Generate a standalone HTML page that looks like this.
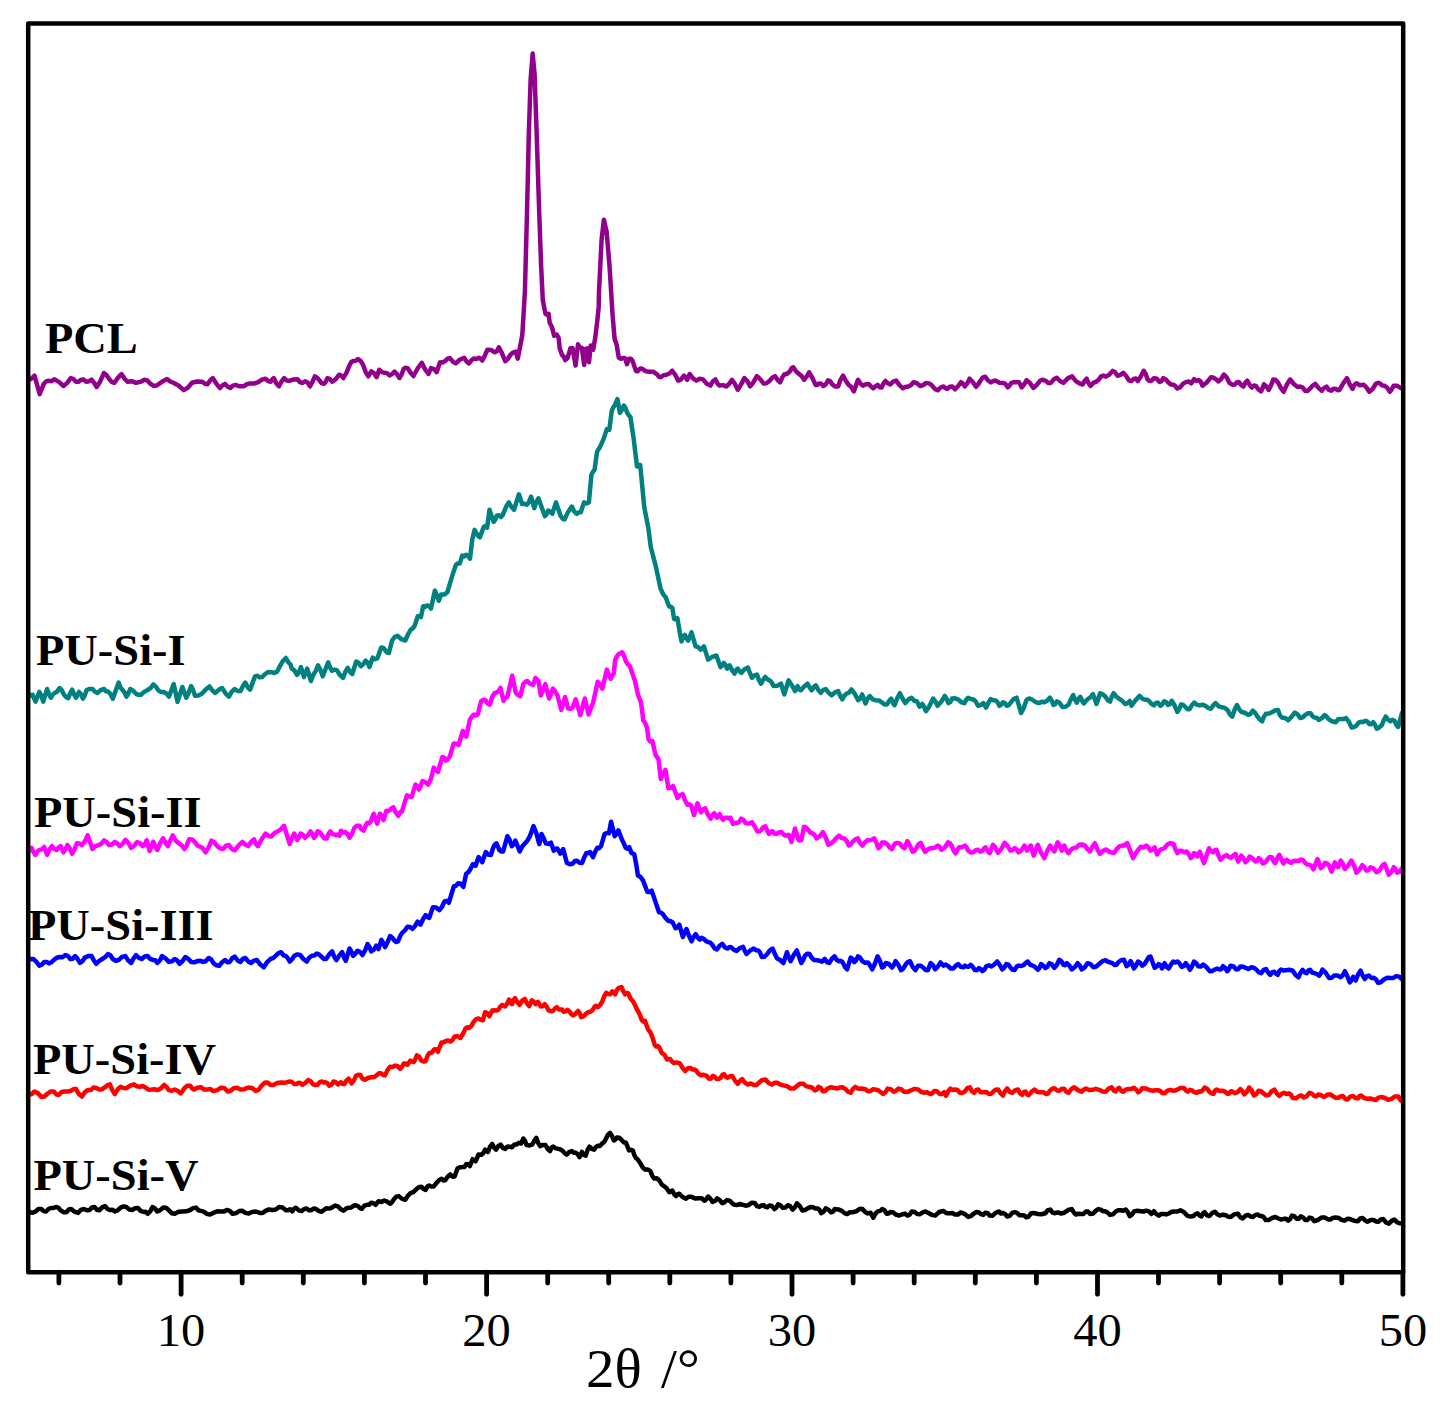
<!DOCTYPE html>
<html><head><meta charset="utf-8"><title>XRD</title>
<style>
html,body{margin:0;padding:0;background:#fff;}
body{width:1448px;height:1412px;overflow:hidden;}
svg{display:block;}
.tl{font-family:"Liberation Serif",serif;font-size:46px;fill:#000;}
.nm{font-family:"Liberation Serif",serif;font-weight:bold;font-size:44px;fill:#000;}
.ax{font-family:"Liberation Serif",serif;font-size:54px;fill:#000;}
</style></head><body>
<svg width="1448" height="1412" viewBox="0 0 1448 1412">
<rect x="0" y="0" width="1448" height="1412" fill="#fff"/>

<g fill="none" stroke-width="4.5" stroke-linejoin="round" stroke-linecap="round">
<path stroke="#92008b" d="M29.3 379.7 L31.9 378.3 L34.5 375.6 L39.7 394.2 L43.8 383.9 L46.4 381.2 L49.0 380.8 L51.6 381.2 L54.2 379.3 L58.9 381.9 L63.5 386.0 L67.2 382.9 L70.8 378.0 L73.4 379.0 L76.0 381.8 L78.5 381.8 L81.0 379.7 L83.7 379.6 L86.3 381.8 L88.9 381.3 L91.5 379.7 L94.1 382.8 L96.7 387.0 L100.3 381.2 L103.9 373.1 L106.5 375.1 L109.0 378.7 L111.7 381.9 L114.3 382.8 L117.9 377.9 L121.5 374.1 L124.6 378.8 L127.7 381.8 L131.8 381.2 L136.0 382.8 L140.2 381.9 L144.3 379.7 L147.4 380.5 L150.5 383.9 L153.6 385.9 L156.7 385.5 L161.9 381.8 L167.1 379.1 L170.2 381.5 L173.3 382.8 L178.5 385.5 L183.7 390.1 L187.8 387.7 L192.0 382.8 L197.2 381.5 L202.3 381.8 L204.9 383.7 L207.5 384.3 L210.1 380.4 L212.7 378.1 L216.3 383.6 L220.0 388.0 L222.6 385.3 L225.1 383.9 L227.7 386.8 L230.3 388.0 L232.9 385.6 L235.5 384.9 L239.6 386.3 L243.7 386.3 L246.8 384.2 L250.0 383.4 L254.1 383.5 L258.2 382.2 L261.9 379.6 L265.5 378.7 L268.1 381.0 L270.7 381.8 L272.2 379.4 L273.8 378.1 L276.4 383.4 L279.0 386.3 L281.6 381.3 L284.1 378.1 L286.7 380.5 L289.3 380.8 L293.5 379.4 L297.6 379.3 L300.0 382.2 L302.5 383.0 L305.0 381.3 L307.5 382.6 L310.0 386.3 L312.4 381.9 L314.9 376.4 L318.2 378.9 L321.5 383.0 L324.0 383.8 L325.6 382.1 L327.3 378.3 L329.8 378.9 L332.3 381.7 L335.6 379.4 L339.0 374.7 L341.2 375.5 L343.4 378.0 L346.5 372.6 L349.7 364.8 L351.4 361.9 L353.0 361.1 L355.5 360.8 L358.0 359.0 L360.5 360.9 L363.0 364.8 L365.6 371.8 L368.3 376.4 L371.3 371.4 L374.0 373.1 L376.6 377.2 L379.2 369.7 L381.9 372.1 L384.5 372.7 L387.0 373.1 L389.5 375.5 L392.0 374.1 L394.5 371.7 L397.0 374.2 L399.5 378.0 L401.6 374.6 L403.6 368.9 L405.6 367.7 L407.7 368.1 L410.6 372.7 L413.5 376.0 L417.6 368.5 L421.8 362.8 L425.1 369.4 L428.5 373.9 L431.0 368.1 L433.9 369.1 L436.7 372.2 L440.0 362.3 L442.5 362.5 L445.0 361.1 L447.5 358.7 L450.0 358.1 L452.9 361.7 L455.8 363.4 L460.0 359.5 L464.1 357.8 L466.6 361.5 L469.0 363.4 L471.5 360.1 L474.0 358.5 L476.5 359.0 L479.0 357.8 L480.6 358.7 L482.3 360.6 L484.8 355.7 L487.3 349.8 L491.1 350.0 L494.8 352.3 L496.9 351.1 L498.9 347.3 L502.0 353.3 L505.2 361.2 L507.9 358.8 L510.5 354.7 L513.1 352.5 L515.7 351.5 L517.8 358.6 L522.3 335.0 L524.9 291.8 L527.0 213.3 L528.8 134.7 L530.6 79.8 L532.7 53.6 L534.6 74.5 L536.7 134.7 L538.8 200.2 L541.1 265.7 L542.8 300.0 L544.1 306.9 L545.5 313.8 L547.0 314.7 L548.6 313.8 L549.7 322.8 L552.1 327.6 L554.2 335.9 L556.6 334.5 L558.6 337.6 L559.7 348.3 L562.1 355.2 L563.7 356.4 L565.2 360.1 L567.6 358.0 L570.4 348.3 L572.5 348.0 L575.6 365.6 L578.0 344.2 L579.7 347.7 L581.8 347.7 L584.2 364.9 L585.6 349.0 L587.7 348.3 L589.0 362.2 L590.8 345.6 L593.2 349.7 L595.2 338.0 L597.3 320.7 L598.7 306.9 L599.0 291.8 L601.6 239.5 L603.9 219.8 L606.6 231.6 L609.5 265.7 L612.5 313.8 L614.6 338.7 L616.7 344.9 L618.7 357.3 L620.8 358.8 L622.9 358.0 L624.9 358.0 L627.0 364.2 L629.1 358.7 L630.8 358.8 L632.5 360.8 L636.0 371.1 L637.7 371.3 L639.4 369.1 L641.0 368.4 L642.7 369.1 L646.0 371.3 L649.3 371.7 L653.2 371.7 L657.1 374.3 L658.9 376.8 L660.7 377.3 L663.6 375.2 L666.5 374.8 L669.4 373.5 L672.3 370.7 L675.2 374.7 L678.1 380.6 L681.0 379.4 L683.9 375.6 L685.5 377.2 L687.2 379.8 L689.7 374.0 L693.0 378.4 L696.4 380.6 L699.7 378.8 L703.0 379.4 L706.7 383.7 L710.4 385.6 L712.9 381.4 L715.4 379.4 L717.5 383.6 L719.6 385.6 L722.9 385.1 L726.2 386.4 L729.1 384.0 L732.0 379.8 L734.9 383.9 L737.8 389.7 L741.1 384.4 L744.4 378.1 L747.3 381.1 L750.2 386.4 L753.5 382.2 L756.9 376.1 L760.2 379.1 L763.5 383.4 L766.4 383.2 L769.3 381.1 L772.2 377.7 L775.1 376.1 L777.6 380.0 L780.1 382.3 L782.2 377.6 L784.2 374.5 L787.1 373.8 L790.0 371.2 L791.6 368.3 L793.3 367.3 L796.2 371.6 L799.1 374.0 L801.6 376.0 L804.1 379.8 L806.6 376.6 L809.1 372.3 L812.4 378.0 L815.7 385.1 L817.4 384.9 L819.0 383.4 L821.1 383.8 L823.2 386.1 L825.7 384.4 L828.1 380.3 L830.2 381.2 L832.3 384.4 L835.2 386.5 L838.1 386.4 L840.5 379.8 L843.0 375.6 L846.0 381.1 L848.9 385.1 L851.3 387.1 L853.8 391.4 L858.0 379.8 L860.5 383.7 L863.0 385.6 L865.9 384.2 L868.7 383.9 L871.1 386.6 L873.5 388.3 L875.6 386.1 L877.7 384.9 L879.7 387.3 L881.6 387.4 L883.5 383.5 L885.5 381.0 L887.9 383.3 L890.3 384.5 L893.2 381.6 L896.1 380.6 L899.5 385.2 L902.9 388.3 L905.8 386.8 L908.7 386.4 L911.1 384.9 L913.5 382.2 L916.9 383.2 L920.3 386.0 L923.2 385.1 L926.1 382.9 L929.0 383.4 L931.9 385.4 L934.8 388.9 L937.7 390.3 L940.6 387.5 L943.5 386.4 L945.5 388.3 L947.4 388.7 L949.8 386.7 L952.2 386.4 L955.1 389.3 L958.0 386.3 L960.9 382.2 L962.8 383.5 L964.8 386.4 L967.2 383.4 L969.6 378.7 L972.8 382.1 L976.0 386.8 L978.1 384.5 L980.2 381.0 L982.7 377.6 L985.1 376.7 L988.0 380.5 L990.9 382.5 L993.3 380.9 L995.7 380.6 L999.5 382.7 L1003.4 382.9 L1005.5 384.0 L1007.7 387.4 L1009.5 385.7 L1011.2 382.9 L1015.0 382.0 L1018.9 382.2 L1021.8 387.4 L1024.2 384.4 L1026.6 380.2 L1030.0 383.0 L1033.4 388.0 L1036.8 384.9 L1040.2 380.6 L1043.1 379.7 L1046.0 381.0 L1048.4 383.0 L1050.8 382.9 L1053.7 379.4 L1056.6 377.7 L1060.0 381.0 L1063.4 382.9 L1067.8 378.4 L1072.1 376.4 L1075.9 381.1 L1079.8 383.5 L1082.7 384.5 L1084.7 380.7 L1086.6 378.7 L1088.5 383.0 L1090.5 386.0 L1093.4 382.8 L1096.3 381.6 L1098.7 379.8 L1101.1 376.4 L1103.5 375.6 L1105.9 376.7 L1109.3 374.6 L1112.7 370.9 L1115.1 372.3 L1117.5 375.8 L1120.4 374.9 L1123.3 372.9 L1126.2 376.0 L1129.1 380.6 L1131.5 380.9 L1134.0 378.7 L1135.9 378.6 L1137.8 381.0 L1140.8 376.6 L1143.7 370.8 L1145.6 373.8 L1147.5 379.2 L1149.3 380.8 L1151.2 381.0 L1154.0 378.2 L1156.8 378.8 L1159.6 382.0 L1161.4 381.2 L1163.3 378.2 L1166.1 379.7 L1168.9 382.9 L1171.2 384.6 L1173.6 384.8 L1175.4 386.1 L1177.3 388.5 L1180.1 387.4 L1182.9 383.8 L1185.7 382.1 L1188.5 381.4 L1191.3 383.3 L1194.1 379.2 L1196.4 380.8 L1198.7 380.1 L1200.6 381.6 L1202.5 385.7 L1206.7 382.5 L1210.9 377.3 L1213.7 377.8 L1216.4 379.5 L1218.3 381.4 L1221.1 379.1 L1223.9 374.5 L1226.7 377.4 L1229.5 382.9 L1232.3 384.7 L1235.1 384.4 L1236.9 382.3 L1238.8 382.0 L1241.2 385.1 L1243.5 386.6 L1245.3 382.8 L1247.2 380.6 L1249.6 384.7 L1251.9 387.5 L1253.8 385.6 L1255.6 385.7 L1258.4 389.3 L1261.2 391.3 L1264.0 384.4 L1266.3 386.5 L1268.7 390.0 L1271.0 385.3 L1273.3 379.5 L1275.7 380.0 L1278.0 382.5 L1280.8 387.9 L1283.6 391.8 L1286.8 384.8 L1290.1 379.5 L1293.8 384.0 L1297.6 387.0 L1300.4 386.6 L1302.7 387.5 L1305.0 390.7 L1307.3 391.0 L1309.7 388.9 L1312.5 385.8 L1315.3 383.8 L1318.5 387.9 L1321.8 390.7 L1324.2 387.9 L1326.5 386.6 L1328.8 389.9 L1331.1 390.7 L1333.4 388.7 L1335.8 388.9 L1337.7 390.2 L1339.5 390.0 L1343.2 383.4 L1347.0 378.2 L1349.8 384.6 L1352.6 388.9 L1354.4 384.9 L1356.3 383.3 L1360.0 385.3 L1363.8 384.8 L1366.5 387.5 L1369.3 391.8 L1372.6 389.0 L1375.9 383.8 L1378.2 382.8 L1380.5 383.8 L1382.4 385.6 L1384.3 385.7 L1387.0 387.5 L1389.8 391.8 L1391.7 389.4 L1393.6 385.7 L1397.3 385.8 L1401.0 388.1"/>
<path stroke="#008080" d="M28.7 693.8 L30.6 695.6 L32.6 694.8 L35.5 701.6 L39.3 691.9 L41.2 695.5 L43.2 701.6 L47.1 689.0 L49.0 693.9 L50.9 697.7 L52.8 694.7 L54.8 692.9 L57.2 691.6 L59.6 688.0 L61.5 689.8 L63.5 693.8 L65.9 697.0 L68.3 698.1 L70.2 693.1 L72.2 689.6 L74.2 694.6 L76.1 697.7 L79.0 691.9 L81.0 694.3 L82.9 698.7 L84.8 695.3 L86.7 690.0 L89.6 688.9 L92.5 689.0 L95.0 691.8 L97.4 692.9 L100.8 690.1 L104.1 689.0 L106.0 691.3 L108.0 691.5 L110.4 693.8 L112.8 698.7 L118.6 682.6 L120.5 687.6 L122.5 690.0 L124.5 692.4 L126.4 696.7 L128.3 693.7 L130.2 689.0 L133.1 690.7 L136.0 693.8 L138.4 694.8 L140.9 694.8 L144.2 691.9 L147.6 690.0 L150.5 688.1 L153.4 684.5 L155.9 686.6 L158.3 690.3 L160.7 691.9 L163.1 691.9 L166.0 693.1 L168.9 696.7 L173.7 684.1 L177.6 701.9 L182.4 687.0 L186.3 697.7 L188.7 692.8 L191.1 686.1 L193.1 690.0 L195.0 695.8 L198.4 695.5 L201.8 693.8 L205.7 689.6 L209.5 686.5 L212.4 690.5 L215.3 692.9 L218.7 689.8 L222.1 688.0 L225.5 693.3 L228.9 696.7 L231.8 691.6 L234.7 689.0 L237.6 691.0 L240.5 690.9 L242.9 686.1 L245.3 682.6 L247.7 687.3 L250.1 689.6 L255.0 676.4 L257.4 675.8 L259.8 677.4 L262.2 677.0 L264.6 674.5 L268.0 672.1 L271.4 672.2 L274.3 673.0 L277.2 671.6 L280.1 665.8 L283.0 660.8 L285.9 658.0 L288.3 662.2 L290.7 664.8 L291.6 668.5 L294.3 670.4 L297.0 674.8 L298.9 672.2 L300.9 667.0 L304.0 677.1 L307.1 668.5 L311.0 681.0 L312.6 676.5 L314.2 673.2 L316.1 670.4 L318.0 665.4 L320.4 669.8 L322.7 676.3 L328.2 662.3 L330.1 667.5 L332.1 670.9 L334.4 669.6 L336.7 670.1 L339.9 674.9 L343.0 677.9 L345.4 671.6 L347.7 667.8 L350.0 671.8 L352.3 674.0 L356.2 661.5 L358.5 662.7 L360.9 666.2 L363.2 664.2 L365.6 660.7 L367.6 662.6 L369.5 667.0 L372.6 657.6 L375.0 659.2 L377.3 658.4 L381.2 647.5 L383.1 647.8 L385.0 649.8 L386.9 652.4 L388.9 653.0 L392.1 640.5 L394.8 636.9 L397.5 635.8 L401.4 639.2 L405.3 640.5 L408.1 634.2 L410.8 629.6 L412.8 628.3 L414.7 625.7 L417.8 616.3 L419.4 615.9 L420.9 617.1 L423.2 606.2 L425.1 606.9 L427.1 605.4 L429.1 606.3 L431.0 608.5 L434.9 590.6 L438.8 600.8 L441.1 594.5 L444.2 594.6 L447.4 592.2 L452.0 576.6 L455.9 564.9 L457.9 563.4 L459.8 563.4 L462.2 555.6 L464.1 556.4 L466.1 554.8 L468.1 556.0 L470.0 558.7 L472.3 539.2 L474.6 529.9 L477.2 534.9 L479.8 537.4 L483.8 526.8 L485.5 526.1 L487.1 527.6 L489.5 509.7 L493.6 521.9 L495.2 519.6 L496.9 515.4 L498.9 515.3 L501.0 517.1 L502.6 515.3 L504.2 511.4 L506.5 505.9 L508.8 502.4 L511.4 506.8 L514.0 509.7 L518.9 494.3 L522.1 504.0 L524.5 503.7 L527.0 504.8 L529.0 501.7 L531.1 496.7 L534.3 508.1 L536.3 502.0 L538.4 498.3 L544.9 516.2 L546.5 514.3 L548.2 510.5 L550.2 511.6 L552.3 513.8 L556.0 502.4 L560.4 515.4 L562.5 518.6 L564.5 519.5 L568.1 511.9 L571.8 506.5 L574.2 511.4 L576.7 513.8 L578.8 512.3 L580.8 512.2 L584.0 502.4 L586.5 503.5 L588.9 502.4 L591.4 474.7 L593.0 471.7 L594.6 469.8 L597.0 451.9 L600.3 446.4 L603.6 438.9 L606.8 429.1 L609.3 429.9 L611.7 411.2 L613.4 407.2 L615.0 404.7 L617.4 399.0 L619.9 412.8 L621.9 409.8 L623.9 405.5 L625.5 407.9 L627.2 412.8 L628.8 415.4 L630.4 416.9 L633.7 438.9 L637.0 466.6 L638.6 464.8 L640.2 464.9 L642.7 491.0 L644.3 507.3 L648.4 528.5 L650.8 547.2 L655.7 565.9 L660.6 588.7 L663.2 594.3 L665.8 597.5 L669.1 606.6 L670.8 606.7 L672.4 608.2 L674.1 619.0 L675.8 619.3 L677.4 618.2 L679.9 633.1 L681.5 641.4 L683.2 636.9 L684.9 634.8 L686.5 638.5 L688.2 640.6 L691.5 632.3 L695.6 646.4 L698.1 647.0 L700.6 649.7 L702.2 648.6 L703.9 646.4 L708.1 659.6 L712.2 656.8 L716.4 655.5 L720.5 667.1 L722.1 665.6 L723.8 662.9 L725.5 664.8 L727.1 668.7 L729.6 665.4 L732.1 670.1 L734.6 673.7 L736.2 669.9 L737.9 668.7 L739.5 671.3 L741.2 672.9 L744.5 669.2 L747.9 667.6 L750.0 673.2 L752.0 677.8 L754.5 675.4 L757.0 674.5 L759.0 680.3 L761.1 683.7 L763.2 679.7 L765.3 677.0 L767.3 679.3 L769.4 680.3 L771.5 682.1 L773.5 686.1 L777.2 685.7 L781.0 683.7 L784.3 694.4 L788.5 680.3 L791.8 685.2 L795.1 691.1 L797.6 686.1 L799.2 689.5 L800.9 690.3 L804.2 686.4 L807.5 683.7 L809.6 687.5 L811.7 690.3 L813.8 687.0 L815.8 685.3 L818.3 690.0 L820.8 692.8 L823.3 689.9 L825.8 689.1 L828.7 692.8 L831.6 695.3 L834.9 692.4 L838.2 691.1 L840.2 695.8 L842.3 699.4 L844.4 695.6 L846.5 693.6 L849.0 692.7 L851.4 689.5 L854.8 693.8 L858.1 700.2 L860.2 698.5 L862.2 694.4 L865.5 703.5 L867.6 698.7 L869.7 696.1 L872.6 699.3 L875.5 700.2 L878.8 700.4 L882.1 702.7 L884.6 704.4 L887.1 704.4 L889.2 700.8 L891.2 698.6 L892.9 702.9 L894.5 705.2 L897.2 698.4 L899.9 693.2 L902.6 698.7 L905.3 703.1 L908.4 699.5 L911.5 697.7 L914.2 700.7 L916.9 701.3 L919.6 706.7 L922.3 704.0 L924.1 707.0 L925.9 711.2 L929.5 705.9 L933.1 698.6 L935.4 701.4 L937.6 705.8 L941.2 701.8 L944.8 695.9 L946.6 698.9 L948.4 703.1 L950.2 702.1 L952.0 698.6 L955.1 698.3 L958.2 699.5 L961.4 702.3 L964.5 703.1 L966.3 699.6 L968.1 697.7 L970.8 699.1 L973.5 699.5 L975.8 701.7 L978.0 705.8 L980.7 705.1 L983.4 703.1 L986.1 707.6 L988.4 702.8 L990.6 699.1 L993.2 700.3 L995.9 700.4 L997.7 702.5 L999.5 705.8 L1001.3 704.6 L1003.1 702.2 L1004.9 703.0 L1006.7 705.8 L1008.5 705.4 L1010.3 703.1 L1013.5 699.1 L1016.6 697.7 L1021.1 713.0 L1023.8 707.7 L1026.5 699.9 L1029.2 698.4 L1031.9 699.5 L1035.5 702.0 L1039.0 703.1 L1041.7 701.8 L1044.4 702.2 L1047.1 700.7 L1049.8 697.7 L1051.6 700.3 L1053.4 704.9 L1055.2 704.1 L1057.0 701.3 L1059.7 703.0 L1062.4 707.0 L1065.6 706.8 L1068.7 704.5 L1071.0 699.0 L1073.2 695.0 L1075.0 699.7 L1076.7 702.7 L1078.5 698.8 L1080.3 696.8 L1082.1 700.7 L1083.9 703.5 L1086.2 700.5 L1088.4 698.6 L1090.7 697.2 L1092.9 694.1 L1096.5 704.0 L1100.1 693.2 L1102.8 694.4 L1105.5 696.8 L1107.8 700.3 L1110.0 701.7 L1111.8 696.8 L1113.6 693.2 L1116.2 696.5 L1118.9 698.6 L1122.1 700.7 L1125.2 704.0 L1127.5 703.2 L1129.7 701.0 L1131.5 705.8 L1135.5 700.2 L1139.6 695.9 L1142.6 698.8 L1145.6 699.8 L1147.4 699.7 L1149.3 701.3 L1151.7 704.1 L1154.0 705.4 L1155.8 703.0 L1157.7 702.6 L1160.5 705.8 L1162.3 704.2 L1164.2 701.3 L1166.1 702.0 L1168.0 705.1 L1169.8 704.2 L1171.7 700.8 L1174.5 705.3 L1177.3 712.0 L1179.2 709.1 L1181.0 704.5 L1183.3 705.0 L1185.7 707.3 L1187.6 709.2 L1189.4 709.2 L1191.8 705.4 L1194.1 702.6 L1196.9 704.8 L1199.7 705.4 L1202.5 704.7 L1205.3 705.8 L1208.1 707.9 L1210.9 708.8 L1213.2 705.4 L1215.5 703.2 L1218.8 706.4 L1222.0 707.3 L1224.8 707.9 L1227.6 710.1 L1229.9 714.3 L1232.3 716.6 L1234.7 709.6 L1237.0 705.1 L1239.3 709.5 L1241.6 712.0 L1244.8 712.7 L1248.1 714.8 L1250.4 714.0 L1252.8 710.6 L1255.2 712.8 L1257.5 716.6 L1259.8 719.5 L1262.1 721.3 L1264.0 716.5 L1265.9 713.8 L1269.2 713.5 L1272.4 712.0 L1275.2 710.3 L1278.0 710.1 L1279.8 715.0 L1281.7 717.5 L1285.0 717.9 L1288.2 720.3 L1291.5 716.9 L1294.8 712.5 L1297.6 714.4 L1300.4 718.1 L1302.7 717.4 L1305.0 715.1 L1307.8 713.3 L1310.6 713.3 L1312.4 716.1 L1314.3 717.5 L1316.7 717.8 L1319.0 720.0 L1321.8 718.1 L1324.6 715.1 L1326.4 716.3 L1328.3 718.9 L1332.0 721.3 L1335.8 722.2 L1338.2 719.3 L1340.5 718.9 L1343.2 719.1 L1346.0 718.1 L1348.8 721.6 L1351.6 727.4 L1353.9 727.2 L1356.3 725.6 L1358.7 722.7 L1361.0 721.8 L1363.3 722.1 L1365.6 720.7 L1367.4 721.5 L1369.3 724.1 L1371.2 724.3 L1373.1 722.2 L1374.9 724.6 L1376.8 728.7 L1379.3 727.4 L1381.9 725.0 L1383.8 720.2 L1385.7 716.6 L1388.0 719.5 L1390.3 721.3 L1392.4 719.8 L1394.5 720.7 L1396.3 724.8 L1398.2 726.9 L1402.0 712.9"/>
<path stroke="#ff00ff" d="M28.7 850.9 L31.6 848.0 L33.5 852.1 L35.5 854.8 L37.4 851.5 L39.3 850.0 L41.8 849.3 L44.2 847.0 L47.1 854.8 L49.5 849.5 L51.9 846.1 L54.3 849.1 L56.7 850.0 L58.7 847.5 L60.6 846.1 L63.5 852.3 L65.5 849.2 L67.4 845.1 L69.8 848.3 L72.2 853.8 L74.6 849.2 L77.0 843.2 L79.5 843.5 L81.9 845.1 L84.8 841.5 L87.7 835.4 L92.5 849.0 L95.4 846.2 L98.3 845.1 L101.2 843.9 L104.1 840.3 L106.5 841.8 L109.0 845.1 L111.9 844.5 L114.8 841.8 L117.2 843.3 L119.6 846.1 L122.5 844.0 L125.4 839.9 L128.3 842.8 L131.2 848.0 L134.1 846.0 L137.0 842.2 L139.9 843.1 L142.8 846.1 L144.8 844.2 L146.7 840.3 L149.6 850.9 L151.5 845.8 L153.4 841.8 L155.4 847.0 L157.3 850.0 L160.2 843.2 L163.1 838.3 L165.5 842.9 L167.9 846.1 L170.4 840.2 L172.8 835.4 L175.7 840.5 L178.6 843.2 L181.5 845.2 L184.4 849.0 L186.8 845.2 L189.2 839.3 L192.1 839.5 L195.0 842.2 L197.4 845.4 L199.8 846.5 L202.7 848.2 L205.6 852.3 L208.6 847.3 L211.5 840.7 L214.4 842.3 L217.3 846.1 L220.2 848.4 L223.1 849.0 L226.0 845.8 L228.9 845.1 L231.8 848.9 L234.7 850.3 L238.6 845.5 L242.4 841.8 L245.3 844.6 L248.2 846.1 L251.1 842.0 L254.0 839.3 L255.9 844.0 L257.9 846.1 L261.8 839.0 L265.6 833.5 L268.5 836.0 L271.4 836.4 L274.3 833.3 L277.2 831.6 L280.6 829.6 L284.0 825.8 L289.8 844.1 L292.0 838.0 L294.2 833.5 L297.1 839.9 L298.9 837.5 L300.6 833.5 L302.8 834.7 L304.9 837.8 L307.7 835.6 L310.5 831.4 L312.3 833.4 L314.1 837.8 L315.9 835.6 L317.6 831.4 L320.1 832.6 L322.6 836.3 L324.7 838.6 L326.8 838.5 L328.6 833.7 L330.4 831.4 L332.9 834.2 L335.3 834.9 L337.5 834.6 L339.6 835.6 L341.0 830.7 L343.1 832.6 L345.2 832.1 L347.4 833.7 L349.5 837.8 L351.9 834.0 L354.4 827.8 L356.9 825.8 L359.4 825.7 L361.5 829.3 L363.7 830.7 L365.4 826.1 L367.2 822.9 L368.9 823.4 L370.7 821.5 L373.6 813.7 L377.1 823.6 L379.9 813.7 L381.7 815.9 L383.5 820.1 L386.3 810.8 L388.1 811.2 L389.9 810.1 L391.6 808.1 L393.4 807.3 L395.9 812.7 L398.4 815.8 L400.1 812.4 L401.9 811.6 L406.9 795.3 L409.4 796.6 L411.8 796.7 L415.4 784.6 L417.1 786.0 L418.9 789.6 L420.6 786.2 L422.4 781.1 L425.2 782.2 L428.1 784.6 L430.9 779.0 L433.8 767.6 L435.9 770.5 L438.0 771.9 L442.3 757.0 L444.1 757.7 L445.8 760.6 L448.0 759.3 L450.1 755.6 L453.6 743.6 L456.1 743.8 L458.6 745.0 L462.8 730.8 L464.6 734.6 L466.3 736.5 L469.9 719.5 L472.0 716.5 L474.1 714.5 L475.9 715.6 L477.7 714.5 L481.2 701.1 L483.2 699.8 L485.3 700.0 L487.6 703.5 L489.9 704.6 L492.2 697.0 L494.4 693.4 L496.7 692.4 L498.6 691.1 L500.5 687.9 L503.5 700.8 L505.4 697.6 L507.3 697.0 L512.2 675.7 L515.7 692.4 L518.0 695.0 L520.3 696.2 L523.3 684.1 L525.2 682.0 L527.1 681.0 L530.2 683.9 L533.2 684.8 L535.5 678.0 L538.5 681.0 L540.8 695.5 L545.3 684.1 L549.1 698.5 L552.9 688.6 L555.2 691.5 L557.5 695.5 L561.3 709.9 L565.1 697.0 L568.1 708.4 L570.4 708.7 L572.7 707.6 L575.7 699.3 L580.3 715.2 L584.8 698.5 L588.6 714.4 L593.2 702.3 L597.7 681.8 L600.0 684.4 L602.3 688.6 L606.9 669.6 L608.8 675.1 L610.7 678.7 L613.7 673.4 L615.2 659.8 L617.1 656.1 L619.0 653.7 L620.5 653.5 L622.1 652.2 L624.0 655.6 L625.9 661.3 L627.8 664.3 L629.7 665.8 L635.0 681.0 L638.0 694.7 L641.0 702.3 L643.3 720.5 L645.2 723.0 L647.1 728.1 L648.6 739.5 L650.5 741.5 L652.4 741.0 L655.5 754.7 L658.5 759.3 L660.8 779.0 L663.1 773.6 L665.4 769.9 L668.4 788.1 L670.7 787.9 L673.0 785.9 L677.5 798.0 L680.1 795.2 L682.8 794.2 L685.1 800.5 L687.4 804.8 L689.3 804.2 L691.2 805.6 L694.0 815.0 L697.5 803.3 L699.3 808.7 L701.1 812.3 L703.2 809.4 L705.3 808.4 L708.0 814.8 L710.7 818.6 L712.5 815.0 L714.2 813.2 L716.9 817.7 L719.6 814.1 L721.4 817.8 L723.2 819.9 L725.0 817.7 L726.8 817.7 L728.6 818.4 L730.4 817.7 L733.1 824.0 L734.9 822.8 L736.7 823.1 L739.0 822.1 L741.2 818.6 L743.5 819.9 L745.7 823.1 L748.9 823.6 L752.0 822.2 L754.6 826.2 L757.3 831.2 L759.1 831.6 L760.9 830.3 L763.1 827.3 L765.4 826.3 L767.2 830.6 L769.0 833.9 L770.8 831.6 L772.6 831.2 L774.4 833.6 L776.2 833.9 L778.9 832.5 L781.6 832.1 L783.9 834.9 L786.1 835.7 L788.8 834.8 L791.5 842.0 L795.0 828.5 L798.6 840.2 L801.3 840.2 L804.0 826.7 L806.2 827.6 L808.5 830.3 L810.3 832.7 L812.1 833.0 L814.4 834.9 L816.6 838.4 L819.8 836.3 L822.9 832.1 L825.6 837.3 L828.3 844.6 L831.0 843.4 L833.7 841.1 L836.4 837.9 L839.0 835.7 L841.7 838.1 L844.4 838.4 L846.6 840.7 L848.9 845.5 L850.7 844.5 L852.5 842.0 L855.2 839.3 L857.9 838.4 L860.1 842.9 L862.4 845.5 L865.1 842.1 L867.8 840.2 L871.0 840.1 L874.1 838.4 L876.3 842.5 L878.5 848.2 L880.3 846.1 L882.1 842.5 L884.8 842.6 L887.5 844.6 L889.8 847.6 L892.0 849.1 L894.7 843.7 L897.4 842.9 L900.1 843.7 L902.4 847.1 L904.6 848.2 L907.3 841.1 L910.0 845.9 L912.7 851.8 L914.5 851.0 L916.3 848.2 L918.5 844.4 L920.7 842.8 L923.0 848.0 L925.2 851.8 L927.9 849.3 L930.6 848.2 L934.2 848.0 L937.8 845.5 L939.6 846.9 L941.4 849.7 L944.1 848.1 L946.0 845.8 L948.0 842.3 L949.8 843.1 L951.6 845.6 L953.7 850.6 L955.7 853.4 L957.4 849.8 L959.1 847.3 L962.0 847.2 L964.9 845.6 L966.5 847.3 L968.2 850.6 L970.7 852.6 L973.2 852.3 L975.7 850.2 L978.1 849.8 L980.2 851.6 L982.3 851.1 L984.0 848.6 L985.6 847.3 L987.7 851.0 L989.7 853.1 L993.0 844.8 L995.5 847.8 L998.0 852.8 L1001.3 849.0 L1004.6 842.8 L1007.5 845.8 L1010.4 850.6 L1012.5 850.0 L1014.6 848.1 L1016.7 849.6 L1018.7 852.3 L1021.6 849.9 L1024.5 845.6 L1027.0 850.6 L1028.9 847.4 L1030.8 845.6 L1033.7 855.6 L1037.8 844.8 L1041.1 852.6 L1044.4 858.1 L1047.3 850.7 L1050.2 845.6 L1052.3 849.1 L1054.4 851.4 L1057.7 842.3 L1059.8 845.7 L1061.8 850.6 L1064.3 845.6 L1066.4 850.5 L1068.5 853.1 L1071.0 849.6 L1073.4 848.1 L1076.3 847.6 L1079.2 844.8 L1082.1 844.4 L1085.0 845.6 L1087.5 849.1 L1090.0 851.4 L1092.5 846.6 L1095.0 843.2 L1097.5 849.7 L1100.0 853.9 L1102.9 850.9 L1105.8 849.4 L1109.9 852.0 L1114.0 853.1 L1116.9 848.8 L1119.8 846.1 L1123.5 845.5 L1127.3 843.2 L1133.1 858.1 L1136.8 851.6 L1140.6 846.8 L1143.5 847.4 L1146.4 845.6 L1148.5 847.5 L1150.5 850.6 L1152.5 849.5 L1154.6 847.3 L1157.1 854.4 L1159.6 850.4 L1162.1 849.0 L1164.6 848.1 L1167.1 844.8 L1170.3 843.1 L1173.6 844.0 L1175.5 849.4 L1177.5 853.2 L1179.5 850.7 L1181.6 850.7 L1184.1 852.3 L1186.6 851.5 L1188.7 854.1 L1190.7 858.1 L1192.3 856.7 L1194.0 853.2 L1195.7 853.7 L1197.3 856.5 L1199.8 851.8 L1204.0 863.1 L1209.0 848.2 L1211.0 851.3 L1213.1 852.3 L1214.8 850.1 L1216.4 849.8 L1218.5 855.5 L1220.6 859.8 L1223.5 856.7 L1226.4 855.1 L1228.8 857.1 L1231.3 857.8 L1233.4 855.3 L1235.5 854.0 L1238.0 861.4 L1239.7 859.5 L1241.3 855.6 L1243.3 858.2 L1245.4 862.3 L1247.5 860.5 L1249.6 856.5 L1252.5 858.4 L1255.4 861.4 L1257.1 861.0 L1258.7 858.1 L1260.8 859.7 L1262.8 863.4 L1265.3 862.4 L1267.8 859.0 L1269.8 856.9 L1271.9 857.3 L1273.6 861.4 L1275.3 863.1 L1277.3 858.0 L1279.4 854.8 L1281.5 859.6 L1283.5 863.4 L1285.2 860.5 L1286.9 859.8 L1289.0 861.9 L1291.0 862.8 L1293.5 861.0 L1296.0 860.6 L1298.5 861.1 L1301.0 859.5 L1303.0 860.2 L1305.1 862.8 L1307.2 864.6 L1309.2 864.8 L1311.3 865.8 L1313.4 869.4 L1317.5 859.0 L1320.8 868.1 L1322.9 866.4 L1325.0 862.8 L1327.0 863.4 L1329.1 865.6 L1331.6 871.7 L1334.9 862.3 L1336.6 865.5 L1338.2 867.2 L1340.7 860.6 L1342.8 863.6 L1344.9 868.9 L1348.2 865.6 L1351.5 860.6 L1354.0 865.5 L1356.5 872.7 L1359.4 869.7 L1362.3 865.1 L1364.3 867.2 L1366.4 870.6 L1368.5 869.8 L1370.6 867.2 L1373.5 868.5 L1376.4 872.2 L1378.5 871.2 L1380.5 868.9 L1382.5 865.3 L1384.6 863.9 L1388.8 874.7 L1391.3 872.2 L1393.8 867.2 L1395.4 868.8 L1397.1 872.7 L1399.6 871.6 L1402.1 868.1"/>
<path stroke="#0000ff" d="M28.7 958.0 L31.1 959.2 L33.5 959.0 L36.4 961.8 L39.3 965.8 L41.8 964.7 L44.2 961.9 L46.6 962.0 L49.0 963.4 L51.4 962.3 L53.8 960.0 L56.7 957.7 L59.6 957.0 L62.5 957.3 L65.4 955.1 L67.8 955.9 L70.3 959.0 L72.7 958.7 L75.1 956.1 L77.5 958.8 L80.0 962.9 L82.4 961.2 L84.8 957.6 L88.2 956.1 L91.6 956.1 L94.0 960.6 L96.4 963.8 L99.3 960.8 L102.2 959.0 L105.1 957.2 L108.0 954.1 L110.4 955.3 L112.8 959.0 L115.7 960.7 L118.6 960.0 L122.0 956.9 L125.4 956.1 L128.3 960.6 L131.2 962.9 L133.6 958.3 L136.0 955.1 L138.9 957.8 L141.8 959.0 L144.7 956.5 L147.6 956.1 L150.5 959.1 L153.4 960.0 L155.4 960.3 L157.3 962.9 L159.7 960.7 L162.1 956.1 L165.5 958.4 L168.9 961.9 L171.8 961.4 L174.7 959.0 L177.1 960.4 L179.5 963.8 L182.4 961.3 L185.3 957.0 L188.2 958.8 L191.1 961.9 L194.5 962.3 L197.9 960.9 L200.4 960.8 L202.8 961.9 L205.7 961.2 L208.6 958.0 L211.0 959.3 L213.4 962.9 L216.3 965.3 L219.2 965.8 L222.1 962.2 L225.0 960.0 L227.4 962.2 L229.8 961.9 L232.2 958.2 L234.7 956.5 L237.6 960.4 L240.5 961.9 L242.9 958.8 L245.3 958.0 L248.2 961.4 L251.1 962.9 L254.0 960.6 L256.9 960.0 L260.3 964.6 L263.7 967.3 L267.0 962.3 L270.4 959.0 L272.9 958.2 L275.3 956.1 L278.2 953.4 L281.1 952.2 L283.5 955.3 L285.9 956.1 L287.9 958.3 L289.8 961.5 L292.1 959.2 L294.4 955.8 L297.3 954.4 L300.2 955.0 L303.4 959.0 L306.7 961.6 L309.2 957.8 L311.8 955.8 L314.3 955.6 L316.8 953.6 L319.0 954.3 L321.2 956.5 L323.8 958.9 L326.3 958.7 L329.2 954.4 L332.1 951.4 L334.2 956.6 L336.4 960.1 L339.3 955.4 L342.2 952.1 L344.0 957.5 L345.8 960.8 L349.5 948.5 L351.3 951.4 L353.1 955.8 L355.2 954.0 L357.4 950.7 L359.9 951.8 L362.5 955.0 L365.1 950.4 L367.6 944.2 L369.4 946.9 L371.2 951.4 L373.8 949.7 L376.3 945.6 L378.5 949.2 L381.4 939.8 L383.2 942.9 L385.0 947.1 L387.6 942.2 L390.1 936.2 L392.2 937.7 L394.4 940.5 L396.2 942.0 L398.0 941.3 L400.2 936.0 L402.4 932.6 L404.9 930.4 L407.5 926.8 L410.1 927.1 L412.6 928.9 L415.1 925.9 L417.6 921.7 L420.5 924.6 L423.1 919.0 L425.6 915.1 L427.4 917.1 L429.2 918.0 L432.9 907.2 L436.1 907.6 L439.4 910.1 L441.9 907.0 L444.5 901.4 L446.6 900.8 L448.8 902.8 L453.9 886.1 L456.0 885.7 L458.2 883.2 L460.8 883.8 L463.3 886.9 L466.2 873.8 L468.0 872.5 L469.8 870.2 L472.7 864.4 L475.6 865.8 L478.5 857.1 L480.4 858.9 L482.2 862.2 L485.8 852.1 L488.4 854.8 L490.9 855.0 L492.9 848.5 L494.7 844.8 L496.5 843.4 L499.4 850.0 L501.2 851.5 L503.1 851.4 L507.4 836.2 L509.6 840.0 L511.8 846.3 L513.6 844.4 L515.4 840.5 L519.7 851.4 L522.6 845.9 L525.5 842.7 L527.7 840.2 L529.9 836.2 L533.5 826.0 L536.4 833.3 L539.3 844.2 L541.5 834.0 L543.6 838.0 L545.8 843.4 L548.3 843.9 L550.9 842.7 L553.8 850.7 L555.6 849.0 L557.4 848.5 L560.3 853.6 L563.2 849.2 L566.9 863.0 L569.8 864.2 L572.7 863.7 L574.9 861.0 L577.0 860.8 L579.5 862.7 L582.1 863.0 L584.2 857.4 L586.4 852.9 L588.2 853.0 L590.1 852.1 L593.0 857.2 L595.1 851.9 L597.3 847.8 L599.1 848.2 L600.9 846.3 L604.6 834.0 L606.8 832.9 L608.9 833.3 L611.1 821.7 L614.7 836.2 L616.5 834.0 L618.4 830.4 L622.0 839.8 L623.8 843.2 L625.6 847.8 L627.4 848.7 L629.2 847.1 L631.4 852.9 L634.3 854.3 L636.5 865.9 L637.9 875.3 L640.5 877.0 L643.0 880.4 L647.4 892.0 L649.5 892.0 L651.7 890.6 L656.1 903.6 L659.0 912.3 L660.8 912.5 L662.6 913.8 L665.5 917.9 L668.4 921.0 L670.5 921.1 L672.7 922.5 L675.6 928.3 L677.5 927.5 L679.3 924.7 L682.9 937.0 L684.7 932.4 L686.5 929.0 L689.0 935.7 L691.6 941.3 L693.7 936.9 L695.7 934.2 L697.8 937.6 L699.9 939.6 L701.7 937.9 L703.5 938.7 L705.8 940.9 L708.0 942.0 L710.2 942.6 L712.4 945.0 L714.6 948.4 L716.9 949.5 L719.6 945.8 L722.3 943.8 L725.0 947.5 L727.7 948.6 L729.5 947.1 L731.3 947.3 L734.0 949.8 L736.7 950.9 L739.9 948.0 L743.0 946.8 L744.8 950.9 L746.6 954.0 L750.2 950.5 L753.7 948.6 L756.0 950.2 L758.2 950.4 L760.0 952.5 L761.8 957.0 L764.5 956.7 L767.2 954.0 L769.9 950.4 L772.6 948.6 L774.9 954.1 L777.1 958.5 L780.2 960.0 L783.4 963.0 L787.0 952.2 L788.8 957.4 L790.6 961.2 L793.7 955.1 L796.8 950.4 L801.3 963.0 L803.1 960.1 L804.9 955.8 L807.1 953.7 L809.4 954.0 L811.6 957.6 L813.9 959.9 L818.0 960.3 L822.0 961.7 L824.7 958.8 L827.0 962.1 L829.2 963.0 L831.9 958.7 L834.6 956.3 L836.8 960.0 L839.0 961.2 L840.8 960.8 L842.6 962.1 L844.9 966.9 L847.1 969.3 L850.7 957.6 L852.5 958.8 L854.3 962.1 L856.1 960.3 L857.9 956.3 L860.1 957.7 L862.4 961.2 L865.1 962.7 L867.8 962.4 L870.0 965.3 L872.3 969.3 L875.0 963.5 L877.6 956.3 L879.9 960.7 L882.1 967.5 L883.9 966.5 L885.7 963.0 L888.9 964.0 L892.0 967.5 L893.8 965.1 L895.6 961.2 L898.3 964.7 L901.0 970.2 L903.2 968.6 L905.5 964.8 L907.8 962.0 L910.0 961.2 L912.7 966.9 L915.4 970.2 L918.1 965.7 L920.8 965.8 L923.4 967.8 L925.6 970.0 L927.9 970.2 L930.6 963.0 L932.9 965.1 L935.1 969.3 L937.8 966.6 L940.5 962.4 L943.3 965.6 L945.8 964.6 L948.3 966.1 L950.8 968.6 L953.3 968.5 L955.8 965.7 L958.2 964.0 L960.7 966.9 L963.2 967.3 L964.9 965.6 L966.5 966.5 L968.6 966.7 L970.7 964.8 L972.8 966.9 L974.8 970.1 L976.9 970.3 L979.0 968.1 L980.6 969.0 L982.3 971.1 L984.3 969.9 L986.4 966.1 L988.9 965.3 L991.4 966.5 L994.3 964.5 L997.2 961.5 L999.7 964.8 L1002.2 969.4 L1004.2 967.7 L1006.3 964.0 L1008.3 964.7 L1010.4 967.3 L1012.5 969.8 L1014.6 970.1 L1016.7 966.6 L1018.7 965.6 L1021.2 966.0 L1023.7 965.1 L1025.8 962.8 L1027.8 961.5 L1030.3 964.8 L1032.8 965.6 L1035.3 967.2 L1037.8 969.8 L1039.4 968.1 L1041.1 964.0 L1043.2 965.5 L1045.3 968.1 L1047.3 966.8 L1049.4 963.2 L1051.9 964.4 L1054.4 967.8 L1056.8 965.0 L1059.3 959.8 L1061.4 961.4 L1063.5 964.8 L1065.2 965.2 L1066.8 963.2 L1069.3 965.6 L1071.8 969.4 L1074.7 967.3 L1077.6 963.2 L1079.7 965.5 L1081.7 969.4 L1084.6 967.5 L1087.5 963.2 L1090.4 964.1 L1093.3 967.3 L1096.2 966.5 L1099.1 964.0 L1102.4 961.2 L1105.8 960.2 L1107.8 961.8 L1109.9 962.3 L1112.4 963.2 L1114.9 965.1 L1116.6 964.7 L1118.2 962.3 L1121.1 960.2 L1124.0 959.8 L1126.5 966.1 L1128.5 964.8 L1130.6 961.2 L1132.2 963.9 L1133.9 968.5 L1136.0 965.6 L1138.1 961.5 L1140.2 962.8 L1142.2 965.6 L1144.7 963.8 L1147.2 959.8 L1148.8 957.2 L1150.5 956.5 L1154.6 967.8 L1156.7 966.4 L1158.8 964.0 L1160.4 965.1 L1162.1 968.5 L1164.6 963.2 L1166.7 967.0 L1168.7 968.5 L1171.0 964.4 L1173.3 961.5 L1175.4 962.4 L1177.5 961.5 L1179.5 963.4 L1181.6 966.9 L1183.7 966.2 L1185.7 963.2 L1187.8 965.8 L1189.9 969.8 L1192.0 966.3 L1194.0 961.5 L1196.1 963.0 L1198.2 966.2 L1200.7 966.6 L1203.2 964.5 L1206.5 967.3 L1209.8 971.2 L1212.3 970.9 L1214.8 969.5 L1217.2 968.5 L1219.7 969.5 L1221.3 969.1 L1223.0 966.2 L1225.1 967.8 L1227.2 971.2 L1228.8 969.3 L1230.5 965.7 L1233.4 966.4 L1236.3 969.5 L1238.3 969.1 L1240.4 966.5 L1243.3 966.8 L1246.2 968.2 L1248.7 969.0 L1251.2 967.3 L1253.7 967.7 L1256.2 969.5 L1258.7 972.1 L1261.2 973.2 L1263.7 969.9 L1266.1 969.0 L1268.2 972.7 L1270.3 974.8 L1272.3 972.2 L1274.4 971.8 L1276.1 973.9 L1277.7 974.8 L1279.4 971.0 L1281.1 969.5 L1283.5 970.5 L1286.0 970.2 L1289.3 969.8 L1292.7 970.7 L1295.6 974.9 L1298.5 977.3 L1300.5 972.8 L1302.6 969.8 L1304.7 972.4 L1306.7 973.2 L1308.4 970.3 L1310.1 969.8 L1312.2 972.6 L1314.2 973.2 L1316.7 973.9 L1319.2 975.6 L1320.8 973.3 L1322.5 969.5 L1325.8 972.9 L1329.1 978.1 L1331.6 977.7 L1334.1 975.6 L1337.4 975.4 L1340.7 977.3 L1342.8 975.1 L1344.9 971.2 L1347.3 976.2 L1349.8 982.3 L1351.5 980.2 L1353.2 976.8 L1355.6 980.6 L1358.1 974.5 L1360.6 970.7 L1362.7 975.6 L1364.8 979.0 L1366.8 976.2 L1368.9 975.6 L1371.4 978.0 L1373.9 977.8 L1376.0 979.3 L1378.0 982.8 L1380.9 982.2 L1383.8 979.5 L1387.2 977.8 L1390.5 978.1 L1393.4 977.9 L1396.3 976.1 L1399.2 976.6 L1402.1 979.5"/>
<path stroke="#ff0000" d="M28.7 1095.0 L31.6 1094.2 L34.5 1091.5 L37.9 1093.1 L41.3 1096.9 L44.2 1096.6 L47.1 1094.0 L50.5 1091.5 L53.8 1091.5 L56.2 1094.3 L58.7 1095.0 L61.6 1092.0 L64.5 1091.5 L67.8 1091.6 L71.2 1090.7 L73.7 1089.0 L76.1 1089.1 L79.0 1094.1 L81.9 1096.5 L84.8 1092.3 L87.7 1090.1 L90.6 1090.1 L93.5 1087.6 L96.4 1088.0 L99.3 1089.5 L102.2 1089.2 L105.1 1087.2 L107.5 1085.1 L109.9 1084.3 L112.3 1090.1 L114.8 1094.0 L117.7 1089.4 L120.6 1086.8 L123.5 1088.0 L126.4 1088.2 L130.2 1085.6 L134.1 1084.3 L137.0 1086.3 L139.9 1086.8 L142.8 1086.0 L145.7 1087.6 L148.6 1089.7 L151.5 1089.5 L154.4 1089.2 L157.3 1090.1 L160.7 1088.6 L164.1 1084.9 L166.5 1086.9 L168.9 1090.1 L171.8 1090.8 L174.7 1089.5 L177.6 1090.8 L180.5 1093.4 L182.4 1091.3 L184.4 1088.2 L187.3 1085.8 L190.2 1085.7 L192.1 1088.3 L194.0 1089.5 L197.4 1087.7 L200.8 1087.2 L204.2 1089.6 L207.6 1089.5 L210.5 1089.1 L213.4 1091.1 L217.2 1090.1 L221.1 1087.6 L224.5 1088.3 L227.9 1091.5 L230.8 1090.8 L233.7 1088.2 L237.1 1087.8 L240.5 1089.5 L244.3 1089.2 L248.2 1087.6 L252.1 1088.1 L255.9 1091.1 L258.8 1089.5 L261.7 1085.7 L264.6 1082.8 L267.5 1082.4 L270.4 1084.9 L273.3 1084.9 L277.2 1082.9 L281.1 1082.4 L285.5 1082.7 L289.8 1081.4 L292.1 1082.1 L294.4 1084.1 L296.5 1084.0 L298.7 1082.7 L300.5 1083.1 L302.3 1084.7 L305.2 1083.1 L308.1 1080.1 L310.6 1081.3 L313.2 1084.4 L315.4 1085.1 L317.6 1084.7 L319.8 1082.1 L321.9 1081.5 L323.7 1082.6 L325.5 1082.2 L327.4 1083.2 L329.2 1085.6 L331.4 1084.7 L333.5 1081.5 L335.7 1082.1 L337.9 1084.4 L340.8 1082.2 L342.6 1083.9 L344.4 1084.1 L346.5 1080.5 L348.7 1078.6 L351.6 1083.3 L353.8 1080.6 L356.0 1075.7 L358.1 1074.8 L360.3 1075.0 L362.5 1078.7 L364.7 1079.8 L367.9 1078.0 L371.2 1077.2 L374.1 1077.2 L377.0 1075.0 L379.2 1073.1 L381.4 1073.5 L383.2 1075.0 L385.0 1075.4 L387.6 1069.9 L390.1 1066.7 L392.6 1066.9 L395.1 1065.6 L397.6 1066.2 L400.2 1068.8 L402.0 1066.6 L403.9 1063.4 L405.7 1063.6 L407.5 1064.8 L410.4 1060.5 L412.2 1061.8 L414.0 1061.9 L416.9 1055.4 L419.1 1056.7 L421.3 1060.5 L423.5 1061.5 L425.6 1061.2 L427.4 1056.1 L429.2 1053.2 L431.8 1052.5 L434.3 1049.3 L436.1 1049.3 L437.9 1051.8 L441.6 1042.4 L443.8 1042.4 L445.9 1040.9 L448.1 1040.5 L450.3 1041.6 L452.5 1040.0 L454.6 1036.6 L457.5 1036.2 L460.4 1038.0 L462.9 1033.9 L465.5 1028.6 L467.3 1027.2 L469.1 1027.9 L471.3 1026.1 L473.5 1022.1 L476.0 1019.1 L478.5 1018.4 L480.7 1019.9 L482.9 1020.3 L485.1 1012.2 L487.2 1013.0 L489.4 1016.3 L492.3 1010.5 L494.6 1010.3 L496.5 1010.6 L498.4 1009.8 L500.3 1006.6 L502.2 1004.9 L505.2 1006.5 L507.1 1004.0 L509.0 999.6 L512.0 1004.2 L513.5 999.9 L515.1 998.1 L517.4 1002.3 L519.6 1004.9 L522.2 1000.7 L524.9 998.9 L527.0 1003.5 L529.2 1006.2 L531.8 1000.4 L533.7 1001.6 L535.6 1004.2 L537.9 1001.9 L540.9 1006.5 L542.8 1006.1 L544.7 1004.2 L546.6 1006.6 L548.5 1010.3 L550.8 1011.2 L553.0 1011.0 L554.9 1008.5 L556.8 1007.2 L558.7 1009.4 L560.6 1009.5 L562.2 1009.4 L563.7 1011.8 L565.6 1011.4 L567.5 1009.8 L569.4 1011.4 L571.3 1014.1 L573.2 1015.4 L575.1 1014.1 L578.1 1011.0 L579.7 1013.1 L581.2 1017.1 L583.5 1016.4 L585.7 1014.1 L588.0 1012.3 L590.3 1011.8 L592.5 1010.1 L594.8 1006.5 L596.3 1005.7 L597.9 1007.2 L600.1 1005.0 L602.4 1001.1 L604.3 996.1 L606.2 992.8 L608.1 994.1 L610.0 994.3 L612.3 991.3 L615.3 994.3 L616.8 990.0 L618.4 988.2 L621.4 987.0 L623.3 991.2 L625.2 994.3 L626.8 993.0 L628.3 993.5 L630.5 998.5 L632.8 1001.1 L634.7 1004.3 L636.6 1008.7 L639.6 1014.1 L641.9 1020.1 L643.5 1021.6 L645.0 1020.9 L648.0 1029.3 L650.3 1032.2 L652.6 1037.6 L654.8 1045.2 L656.3 1046.6 L657.9 1046.0 L659.8 1048.3 L661.7 1052.8 L664.7 1055.1 L667.0 1059.6 L670.0 1058.9 L671.9 1061.5 L673.8 1063.0 L676.8 1062.4 L679.9 1063.4 L682.5 1067.8 L685.2 1071.0 L687.9 1068.3 L690.5 1068.0 L692.4 1069.5 L694.3 1069.5 L696.2 1070.5 L698.1 1073.3 L700.9 1075.3 L703.6 1074.8 L706.3 1075.6 L709.0 1078.7 L710.8 1078.6 L712.6 1076.0 L714.4 1076.5 L716.2 1078.7 L718.5 1079.1 L720.7 1077.8 L722.5 1074.9 L724.2 1074.2 L726.0 1076.9 L727.8 1077.8 L730.0 1076.2 L732.3 1076.0 L735.0 1080.7 L737.7 1083.8 L740.0 1080.8 L742.2 1079.1 L744.9 1082.6 L747.6 1084.5 L750.8 1083.5 L753.9 1085.0 L756.6 1084.9 L759.3 1082.3 L762.4 1079.9 L765.5 1079.6 L768.6 1082.9 L771.8 1084.5 L774.5 1082.8 L777.2 1082.7 L780.8 1084.7 L784.4 1085.6 L787.5 1086.4 L790.7 1088.6 L793.9 1088.4 L797.0 1085.9 L800.1 1083.7 L803.3 1083.8 L806.0 1086.1 L808.6 1086.8 L811.8 1087.5 L814.9 1090.4 L816.7 1089.7 L818.5 1086.8 L820.8 1088.0 L823.0 1091.3 L825.2 1091.0 L827.5 1088.6 L831.1 1087.2 L834.7 1088.1 L837.4 1088.5 L840.1 1087.4 L842.8 1087.2 L845.4 1089.1 L848.1 1091.6 L850.8 1092.7 L853.0 1088.9 L855.3 1086.8 L858.5 1088.8 L861.6 1088.6 L864.8 1088.9 L867.9 1091.3 L870.6 1090.9 L873.3 1089.1 L878.2 1090.3 L883.2 1094.0 L885.4 1092.3 L887.6 1088.6 L890.8 1089.2 L893.9 1091.7 L896.1 1090.7 L898.4 1088.6 L901.1 1089.2 L903.8 1091.7 L907.4 1091.8 L911.0 1090.4 L914.6 1088.9 L918.2 1089.5 L921.4 1092.0 L924.5 1092.7 L927.1 1092.2 L929.8 1094.0 L932.0 1093.5 L934.3 1090.9 L937.0 1091.3 L939.7 1094.0 L942.0 1093.9 L944.2 1092.2 L946.0 1095.8 L948.2 1091.2 L950.5 1088.6 L952.8 1090.1 L955.0 1089.5 L957.5 1090.0 L959.9 1092.8 L962.4 1092.9 L964.9 1091.5 L967.4 1088.2 L969.9 1087.3 L972.0 1091.2 L974.0 1092.8 L976.1 1090.1 L978.2 1089.5 L980.7 1092.2 L983.2 1092.3 L986.1 1091.9 L989.0 1094.0 L991.0 1093.8 L993.1 1091.8 L995.6 1089.7 L998.1 1089.5 L1000.5 1093.2 L1003.0 1095.6 L1005.1 1090.9 L1007.2 1088.5 L1009.7 1091.9 L1012.2 1092.8 L1015.1 1090.3 L1018.0 1089.5 L1020.0 1093.2 L1022.1 1094.8 L1023.8 1092.1 L1025.4 1091.5 L1027.1 1094.4 L1028.7 1095.1 L1031.6 1091.7 L1034.5 1089.5 L1037.4 1092.0 L1040.3 1092.3 L1043.2 1092.2 L1046.1 1094.0 L1047.8 1093.6 L1049.5 1091.2 L1052.0 1088.9 L1054.4 1088.2 L1056.9 1090.4 L1059.4 1090.7 L1061.9 1088.7 L1064.4 1089.0 L1066.5 1091.9 L1068.5 1092.8 L1071.4 1089.0 L1074.3 1087.3 L1078.0 1090.1 L1081.8 1091.8 L1083.8 1089.5 L1085.9 1088.5 L1089.2 1090.0 L1092.5 1089.8 L1095.8 1088.8 L1099.2 1089.8 L1102.5 1091.5 L1105.8 1091.8 L1108.7 1088.5 L1111.6 1087.3 L1113.7 1090.4 L1115.8 1091.5 L1117.4 1089.1 L1119.1 1087.8 L1121.2 1090.7 L1123.2 1091.8 L1125.7 1089.7 L1128.2 1089.0 L1131.1 1088.9 L1134.0 1087.8 L1136.0 1089.4 L1138.1 1092.3 L1140.2 1091.0 L1142.3 1088.2 L1145.6 1088.4 L1148.9 1089.8 L1152.2 1090.7 L1155.5 1090.2 L1158.0 1090.2 L1160.5 1091.2 L1162.5 1093.1 L1164.6 1093.2 L1167.5 1090.7 L1170.4 1089.8 L1173.8 1090.8 L1177.1 1089.8 L1180.5 1087.9 L1184.0 1088.0 L1186.0 1090.5 L1187.9 1091.7 L1189.9 1089.8 L1191.9 1090.4 L1194.3 1092.1 L1196.7 1092.8 L1198.7 1091.4 L1200.6 1091.7 L1202.6 1090.4 L1204.6 1087.6 L1207.0 1088.8 L1209.4 1091.7 L1211.4 1093.4 L1213.4 1093.9 L1215.0 1090.6 L1216.5 1089.6 L1219.7 1090.9 L1222.9 1090.7 L1225.2 1091.8 L1227.6 1093.9 L1229.2 1093.5 L1230.8 1091.2 L1232.8 1091.7 L1234.8 1093.3 L1237.6 1092.1 L1240.4 1089.1 L1242.3 1091.0 L1244.3 1094.4 L1246.7 1092.0 L1249.1 1087.6 L1251.5 1090.3 L1253.9 1095.5 L1256.2 1094.3 L1258.6 1090.7 L1261.0 1091.2 L1263.4 1093.3 L1266.2 1095.3 L1268.9 1094.9 L1271.7 1091.2 L1274.5 1089.6 L1276.9 1093.6 L1279.3 1096.0 L1281.7 1093.8 L1284.0 1092.8 L1286.4 1094.0 L1288.8 1093.3 L1290.8 1094.7 L1292.8 1098.0 L1295.9 1098.3 L1299.1 1096.0 L1301.5 1095.5 L1303.9 1097.6 L1306.7 1096.2 L1309.4 1092.8 L1311.8 1093.6 L1314.2 1096.0 L1316.2 1096.4 L1318.2 1094.4 L1321.0 1095.1 L1323.7 1096.8 L1325.7 1096.2 L1327.7 1094.4 L1330.5 1094.4 L1333.3 1096.4 L1336.0 1098.0 L1338.8 1097.6 L1340.8 1096.2 L1342.8 1096.0 L1345.2 1098.8 L1347.6 1099.6 L1350.3 1096.6 L1353.1 1096.0 L1355.5 1098.0 L1357.9 1098.4 L1359.5 1096.1 L1361.1 1095.5 L1363.8 1097.8 L1366.6 1098.7 L1370.2 1098.4 L1373.8 1099.6 L1376.2 1099.9 L1378.5 1097.6 L1381.7 1097.0 L1384.9 1098.0 L1388.1 1099.8 L1391.2 1099.1 L1394.8 1096.5 L1398.4 1096.4 L1400.4 1100.1 L1402.4 1101.8"/>
<path stroke="#000000" d="M29.7 1211.9 L32.6 1212.8 L35.5 1211.5 L38.4 1209.1 L41.3 1209.0 L43.7 1211.1 L46.1 1211.5 L48.5 1209.0 L50.9 1208.0 L53.3 1208.0 L55.8 1207.0 L58.2 1207.6 L60.6 1210.3 L63.5 1212.2 L66.4 1212.3 L68.8 1209.5 L71.2 1209.0 L74.6 1211.7 L78.0 1212.9 L80.9 1209.8 L83.8 1209.0 L86.7 1210.2 L89.6 1210.0 L92.0 1207.4 L94.5 1207.0 L96.9 1209.7 L99.3 1210.3 L102.2 1207.4 L105.1 1206.1 L107.5 1209.0 L109.9 1210.0 L112.3 1209.7 L114.8 1211.5 L117.7 1210.2 L120.6 1207.6 L123.5 1206.4 L126.4 1207.0 L129.3 1209.6 L132.2 1210.0 L135.1 1208.3 L138.0 1208.0 L140.9 1211.1 L143.8 1211.9 L145.7 1211.8 L147.6 1213.8 L150.1 1211.6 L152.5 1207.0 L154.9 1208.5 L157.3 1211.5 L160.2 1210.1 L163.1 1207.6 L166.0 1207.8 L168.9 1210.3 L171.8 1213.2 L174.7 1213.8 L178.6 1211.8 L182.4 1211.5 L186.3 1211.3 L190.2 1210.0 L193.1 1208.1 L196.0 1207.6 L198.4 1210.3 L200.8 1210.9 L203.7 1211.6 L206.6 1213.8 L210.0 1214.6 L213.4 1212.9 L217.2 1211.2 L221.1 1211.5 L224.0 1211.4 L226.9 1210.0 L229.8 1210.9 L232.7 1213.8 L236.1 1213.1 L239.5 1210.9 L242.4 1210.7 L245.3 1212.9 L248.7 1213.6 L252.1 1211.9 L255.9 1211.5 L259.8 1212.9 L262.7 1212.9 L265.6 1210.9 L269.0 1209.4 L272.4 1210.0 L275.8 1209.6 L279.1 1207.0 L282.5 1207.4 L285.9 1210.3 L287.9 1210.3 L290.0 1209.2 L292.2 1211.4 L294.0 1208.8 L295.8 1207.7 L298.7 1210.4 L301.6 1211.1 L304.1 1209.1 L306.7 1208.5 L308.9 1210.3 L311.0 1210.2 L313.9 1208.5 L316.4 1209.2 L319.0 1211.1 L321.6 1211.7 L324.1 1209.9 L326.2 1208.3 L328.4 1208.5 L330.6 1208.3 L332.8 1207.0 L335.4 1205.6 L337.9 1206.3 L340.8 1209.2 L343.7 1210.6 L346.2 1208.5 L348.7 1207.7 L351.2 1207.5 L353.8 1205.6 L356.0 1205.3 L358.2 1206.3 L360.0 1208.2 L361.8 1208.8 L364.4 1205.6 L366.9 1204.8 L369.0 1204.8 L371.2 1202.7 L373.4 1203.2 L375.6 1204.8 L378.5 1201.2 L381.4 1202.0 L384.3 1200.5 L387.2 1201.6 L390.1 1203.8 L391.9 1202.4 L393.7 1199.5 L396.2 1196.6 L398.8 1196.1 L402.1 1198.9 L405.3 1199.8 L407.9 1195.8 L410.4 1193.2 L413.3 1192.1 L416.2 1189.3 L418.8 1187.2 L421.3 1186.7 L423.5 1188.9 L425.6 1189.9 L427.4 1186.5 L429.2 1185.6 L431.4 1186.5 L433.6 1186.4 L436.5 1183.1 L439.1 1180.1 L441.6 1178.7 L443.4 1180.5 L445.2 1180.2 L447.8 1176.5 L450.3 1174.4 L452.5 1176.8 L454.6 1176.6 L457.5 1168.6 L460.1 1167.2 L462.6 1167.1 L464.4 1166.9 L466.2 1164.2 L468.0 1163.9 L469.8 1166.1 L472.7 1159.2 L475.6 1161.3 L478.5 1154.5 L481.4 1154.8 L483.2 1153.3 L485.1 1149.7 L488.0 1151.9 L490.1 1146.7 L492.3 1144.0 L494.2 1147.7 L496.1 1149.6 L498.4 1145.9 L500.6 1144.6 L502.9 1147.9 L505.2 1148.9 L507.1 1146.8 L509.0 1146.6 L512.0 1147.3 L514.3 1144.6 L516.6 1144.6 L518.9 1142.8 L521.1 1143.5 L523.4 1138.5 L525.0 1140.7 L526.5 1145.1 L529.5 1145.5 L532.5 1144.3 L534.4 1140.5 L536.3 1137.9 L538.2 1143.1 L540.1 1146.1 L542.8 1144.9 L545.5 1145.1 L547.8 1149.0 L550.0 1151.1 L551.5 1147.7 L553.1 1146.6 L555.8 1148.4 L558.4 1148.9 L560.6 1149.5 L562.9 1151.1 L564.8 1153.4 L566.7 1154.6 L569.4 1151.9 L572.0 1151.1 L573.9 1152.7 L575.8 1152.7 L577.7 1154.2 L579.6 1157.2 L581.9 1151.9 L583.8 1154.7 L585.7 1155.7 L587.6 1149.9 L589.5 1146.6 L591.8 1148.8 L594.1 1149.6 L596.0 1146.9 L597.9 1145.8 L599.8 1146.1 L601.7 1144.0 L604.7 1141.3 L607.7 1135.2 L610.0 1132.9 L611.9 1135.7 L613.8 1140.5 L615.3 1139.7 L616.9 1137.5 L619.1 1137.8 L621.4 1139.8 L623.7 1142.2 L626.0 1142.8 L629.0 1150.4 L630.9 1149.8 L632.8 1150.4 L634.3 1155.0 L635.9 1158.0 L638.1 1159.9 L640.4 1163.3 L642.7 1167.5 L645.0 1169.4 L647.6 1169.4 L650.3 1170.9 L652.2 1175.7 L654.1 1178.5 L656.8 1178.2 L659.4 1180.5 L661.7 1184.5 L664.0 1186.1 L666.6 1188.3 L669.3 1192.2 L672.3 1190.6 L674.2 1194.3 L676.1 1196.0 L677.7 1194.1 L679.2 1193.7 L682.6 1197.0 L686.0 1198.7 L688.6 1196.8 L691.3 1196.7 L695.1 1198.6 L698.9 1198.2 L701.7 1198.2 L704.5 1200.7 L706.3 1199.3 L708.1 1196.5 L710.4 1198.7 L712.6 1201.9 L714.9 1201.0 L717.1 1198.3 L719.8 1200.3 L722.4 1203.3 L724.6 1202.2 L726.9 1200.1 L729.6 1200.6 L732.3 1203.3 L734.5 1204.8 L736.8 1205.1 L740.0 1203.9 L743.1 1204.8 L745.8 1205.7 L748.5 1205.1 L751.6 1202.8 L754.8 1203.0 L757.0 1206.1 L759.3 1206.9 L761.5 1205.5 L763.7 1205.1 L765.5 1206.9 L767.3 1207.3 L769.5 1205.4 L771.8 1206.0 L774.5 1209.1 L776.3 1207.6 L778.1 1204.2 L780.4 1205.2 L782.6 1207.8 L785.3 1207.6 L788.0 1205.1 L790.2 1206.2 L792.5 1209.6 L794.8 1207.3 L797.0 1203.3 L799.7 1206.0 L802.4 1210.5 L805.0 1210.0 L807.7 1208.4 L810.4 1207.1 L813.1 1207.3 L815.4 1208.5 L817.6 1208.4 L819.4 1209.8 L821.2 1213.2 L823.5 1211.8 L825.7 1208.4 L828.4 1209.7 L831.1 1212.3 L832.9 1211.7 L834.7 1209.1 L838.3 1209.4 L841.9 1210.9 L844.5 1213.1 L847.2 1214.1 L849.9 1212.2 L852.6 1212.3 L856.2 1211.4 L859.8 1208.7 L862.5 1209.1 L865.2 1212.0 L867.9 1213.4 L870.6 1212.7 L873.3 1217.7 L875.5 1213.5 L877.8 1211.4 L880.0 1210.9 L882.3 1209.1 L884.5 1210.3 L886.7 1213.8 L888.5 1213.5 L890.3 1212.0 L893.0 1212.3 L895.7 1214.5 L899.3 1215.5 L902.9 1214.1 L905.1 1213.6 L907.4 1215.6 L909.6 1214.7 L911.9 1211.4 L914.6 1211.9 L917.3 1214.1 L920.0 1214.3 L922.7 1212.3 L925.4 1211.4 L928.0 1212.7 L931.6 1214.8 L935.2 1215.6 L939.2 1212.0 L943.3 1210.9 L946.5 1213.3 L949.6 1213.2 L952.3 1213.0 L955.0 1214.5 L957.9 1214.6 L960.8 1212.4 L964.5 1213.8 L968.2 1216.9 L970.7 1216.2 L973.2 1214.0 L976.1 1212.1 L979.0 1212.4 L981.1 1214.2 L983.2 1214.9 L985.2 1212.8 L987.3 1212.9 L989.8 1215.6 L992.3 1215.7 L995.6 1212.9 L998.9 1211.5 L1001.0 1213.5 L1003.0 1212.9 L1005.1 1214.1 L1007.2 1216.5 L1009.7 1215.9 L1012.2 1212.9 L1014.7 1212.2 L1017.1 1212.9 L1019.6 1215.3 L1022.1 1215.2 L1024.2 1215.4 L1026.2 1217.3 L1028.7 1216.5 L1031.2 1213.2 L1034.5 1213.1 L1037.8 1214.0 L1041.5 1214.2 L1045.3 1213.2 L1047.8 1210.2 L1050.3 1209.6 L1052.3 1212.4 L1054.4 1213.2 L1057.8 1212.4 L1061.1 1213.5 L1063.5 1213.0 L1066.0 1211.5 L1068.9 1209.7 L1071.8 1209.1 L1073.9 1212.6 L1076.0 1214.5 L1078.5 1213.7 L1080.9 1214.0 L1083.4 1214.0 L1085.9 1211.5 L1088.0 1211.6 L1090.1 1214.0 L1093.0 1213.6 L1095.9 1210.7 L1098.3 1209.1 L1100.8 1209.6 L1102.9 1211.2 L1105.0 1211.2 L1107.5 1212.5 L1110.0 1214.9 L1112.9 1214.3 L1115.8 1211.5 L1118.2 1210.3 L1120.7 1210.2 L1123.2 1210.8 L1125.7 1209.6 L1127.8 1212.0 L1129.8 1216.2 L1131.9 1214.7 L1134.0 1211.5 L1137.3 1210.8 L1140.6 1211.2 L1143.5 1211.5 L1146.4 1210.7 L1148.9 1211.4 L1151.4 1214.0 L1153.9 1211.2 L1156.3 1214.0 L1158.8 1215.7 L1161.3 1213.9 L1163.8 1214.0 L1166.3 1214.4 L1168.8 1213.5 L1171.7 1211.8 L1174.6 1211.5 L1177.5 1211.5 L1180.4 1210.2 L1183.8 1211.9 L1187.1 1215.6 L1190.3 1216.6 L1193.5 1216.0 L1195.5 1214.0 L1197.5 1213.3 L1199.5 1215.5 L1201.4 1216.4 L1203.0 1213.3 L1204.6 1212.2 L1207.0 1215.3 L1209.4 1216.0 L1212.2 1213.0 L1214.9 1211.7 L1217.3 1214.3 L1219.7 1215.6 L1222.9 1214.7 L1226.1 1215.3 L1228.4 1216.8 L1230.8 1216.9 L1234.4 1214.3 L1238.0 1213.7 L1240.3 1217.2 L1242.7 1218.5 L1245.5 1215.7 L1248.3 1214.9 L1250.7 1216.6 L1253.1 1216.9 L1255.4 1214.9 L1257.8 1214.4 L1259.8 1216.0 L1261.8 1216.0 L1263.8 1217.2 L1265.8 1220.1 L1268.9 1219.9 L1272.1 1218.0 L1275.3 1217.0 L1278.5 1218.5 L1281.2 1219.6 L1284.0 1218.8 L1286.0 1218.7 L1288.0 1220.7 L1290.0 1219.2 L1292.0 1215.6 L1294.3 1216.2 L1296.7 1218.8 L1298.7 1218.7 L1300.7 1216.4 L1303.1 1217.5 L1305.5 1220.1 L1307.5 1219.9 L1309.4 1217.6 L1311.8 1218.1 L1314.2 1221.2 L1317.8 1220.0 L1321.4 1217.6 L1325.0 1217.6 L1328.5 1219.6 L1330.5 1219.6 L1332.5 1218.0 L1335.7 1217.5 L1338.8 1218.0 L1341.6 1219.9 L1344.4 1220.7 L1347.2 1218.8 L1350.0 1219.1 L1354.0 1220.7 L1357.9 1221.2 L1360.3 1218.5 L1362.7 1218.0 L1365.1 1220.4 L1367.4 1221.7 L1370.6 1220.1 L1373.8 1220.1 L1376.2 1221.4 L1378.5 1221.7 L1380.9 1219.5 L1383.3 1219.1 L1386.1 1222.5 L1388.9 1223.6 L1391.7 1220.9 L1394.4 1219.6 L1397.2 1222.4 L1400.0 1223.3"/>
</g>
<rect x="28.2" y="23.6" width="1375.0" height="1248.6" fill="none" stroke="#000" stroke-width="4.5" stroke-linejoin="round"/>
<g stroke="#000" stroke-width="4.8" stroke-linecap="round"><line x1="58.9" y1="1272.2" x2="58.9" y2="1283.1"/><line x1="120.0" y1="1272.2" x2="120.0" y2="1283.1"/><line x1="181.1" y1="1272.2" x2="181.1" y2="1294.3"/><line x1="242.2" y1="1272.2" x2="242.2" y2="1283.1"/><line x1="303.3" y1="1272.2" x2="303.3" y2="1283.1"/><line x1="364.4" y1="1272.2" x2="364.4" y2="1283.1"/><line x1="425.5" y1="1272.2" x2="425.5" y2="1283.1"/><line x1="486.6" y1="1272.2" x2="486.6" y2="1294.3"/><line x1="547.7" y1="1272.2" x2="547.7" y2="1283.1"/><line x1="608.7" y1="1272.2" x2="608.7" y2="1283.1"/><line x1="669.8" y1="1272.2" x2="669.8" y2="1283.1"/><line x1="730.9" y1="1272.2" x2="730.9" y2="1283.1"/><line x1="792.0" y1="1272.2" x2="792.0" y2="1294.3"/><line x1="853.1" y1="1272.2" x2="853.1" y2="1283.1"/><line x1="914.2" y1="1272.2" x2="914.2" y2="1283.1"/><line x1="975.3" y1="1272.2" x2="975.3" y2="1283.1"/><line x1="1036.4" y1="1272.2" x2="1036.4" y2="1283.1"/><line x1="1097.5" y1="1272.2" x2="1097.5" y2="1294.3"/><line x1="1158.5" y1="1272.2" x2="1158.5" y2="1283.1"/><line x1="1219.6" y1="1272.2" x2="1219.6" y2="1283.1"/><line x1="1280.7" y1="1272.2" x2="1280.7" y2="1283.1"/><line x1="1341.8" y1="1272.2" x2="1341.8" y2="1283.1"/><line x1="1402.9" y1="1272.2" x2="1402.9" y2="1294.3"/></g>
<g class="tl"><text transform="translate(181.1 1346) scale(1.055 1)" text-anchor="middle">10</text><text transform="translate(486.6 1346) scale(1.055 1)" text-anchor="middle">20</text><text transform="translate(792.0 1346) scale(1.055 1)" text-anchor="middle">30</text><text transform="translate(1097.5 1346) scale(1.055 1)" text-anchor="middle">40</text><text transform="translate(1402.9 1346) scale(1.055 1)" text-anchor="middle">50</text></g>
<g class="nm"><text transform="translate(45.0 353.0) scale(1.055 1)">PCL</text><text transform="translate(36.0 665.0) scale(1.055 1)">PU-Si-I</text><text transform="translate(34.0 827.2) scale(1.055 1)">PU-Si-II</text><text transform="translate(28.0 940.2) scale(1.055 1)">PU-Si-III</text><text transform="translate(33.0 1074.3) scale(1.055 1)">PU-Si-IV</text><text transform="translate(33.5 1189.6) scale(1.055 1)">PU-Si-V</text></g>
<text class="ax" transform="translate(586 1387) scale(1.055 1)">2&#952;</text><text class="ax" transform="translate(661 1387) scale(1.055 1)">/</text><text class="ax" transform="translate(677 1387) scale(1.055 1)">&#176;</text>
</svg></body></html>
